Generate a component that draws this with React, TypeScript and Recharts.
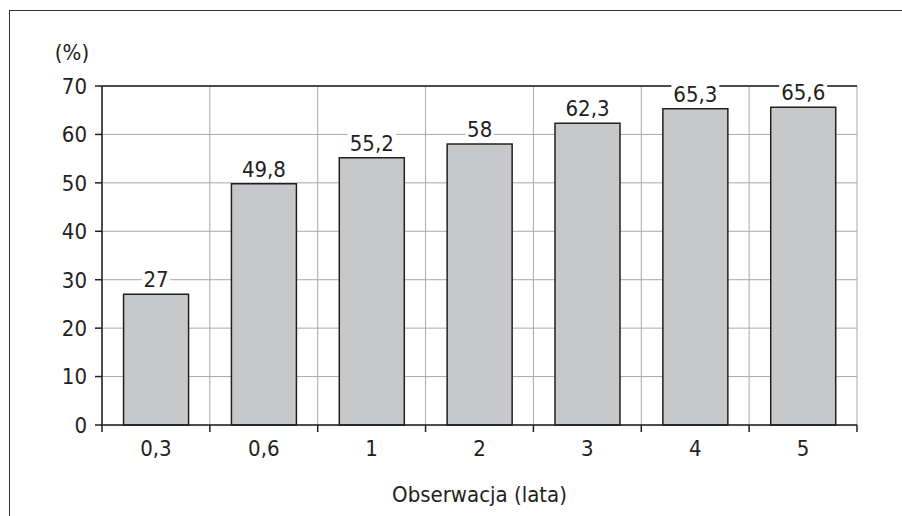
import { BarChart, Bar, XAxis, YAxis, CartesianGrid, LabelList, ReferenceLine, Label } from 'recharts'

// observation time (years) and share (%)
const categories = ['0,3', '0,6', '1', '2', '3', '4', '5']
const values = [27, 49.8, 55.2, 58, 62.3, 65.3, 65.6]
const yTicks = [0, 10, 20, 30, 40, 50, 60, 70]

const data = categories.map((c, i) => ({ name: c, value: values[i] }))

const FONT = '"Liberation Sans Narrow", "DejaVu Sans Condensed", sans-serif'
const TEXT = '#231f20'

const fmt = (v: number) => String(v).replace('.', ',')

function ValueLabel(props: any) {
  const { x, y, width, value } = props
  const s = fmt(value)
  const w = s.length * 10 + 8
  const cx = x + width / 2
  return (
    <g>
      <rect x={cx - w / 2} y={y - 26} width={w} height={22} fill="#fff" />
      <text x={cx} y={y - 7} textAnchor="middle" fontSize={22} fontFamily={FONT} fill={TEXT}>
        {s}
      </text>
    </g>
  )
}

// label at the band centre, tick marks at the band edges
function XTick(props: any) {
  const { x, y, payload, index, visibleTicksCount } = props
  const half = payload.offset || 0
  const top = y - 15
  return (
    <g>
      <line x1={x - half} x2={x - half} y1={top} y2={top + 7} stroke={TEXT} strokeWidth={1.5} />
      {index === visibleTicksCount - 1 && (
        <line x1={x + half} x2={x + half} y1={top} y2={top + 7} stroke={TEXT} strokeWidth={1.5} />
      )}
      <text x={x} y={y} dy="0.71em" textAnchor="middle" fontSize={22} fontFamily={FONT} fill={TEXT}>
        {payload.value}
      </text>
    </g>
  )
}

// vertical grid lines at the category boundaries
const bandEdges = ({ offset }: any) =>
  categories.map((_, i) => offset.left + (i * offset.width) / categories.length).concat(offset.left + offset.width)

export default function App() {
  return (
    <div style={{ position: 'fixed', left: 0, top: 0, width: 902, height: 516, overflow: 'hidden', background: '#fff' }}>
      <div
        style={{
          position: 'absolute',
          left: 9,
          top: 10,
          width: 893,
          height: 506,
          boxSizing: 'border-box',
          borderLeft: '1.5px solid #333',
          borderTop: '1.5px solid #333',
        }}
      />
      <div style={{ position: 'absolute', left: 8, top: 8 }}>
        <BarChart
          width={894}
          height={508}
          data={data}
          margin={{ top: 78, right: 45, left: 0, bottom: 11 }}
          barCategoryGap="20%"
        >
          <CartesianGrid stroke="#a7a9ac" strokeWidth={1} verticalCoordinatesGenerator={bandEdges} />
          <XAxis
            dataKey="name"
            height={80}
            tickLine={false}
            tickSize={0}
            tickMargin={15}
            interval={0}
            axisLine={{ stroke: TEXT, strokeWidth: 1.5 }}
            tick={<XTick />}
          >
            <Label
              value="Obserwacja (lata)"
              position="insideBottom"
              offset={3}
              style={{ fontSize: 22, fontFamily: FONT, fill: TEXT }}
            />
          </XAxis>
          <YAxis
            width={94}
            domain={[0, 70]}
            ticks={yTicks}
            interval={0}
            tickSize={7}
            tickMargin={8}
            axisLine={{ stroke: TEXT, strokeWidth: 1.5 }}
            tickLine={{ stroke: TEXT, strokeWidth: 1.5 }}
            tick={{ fontSize: 22, fontFamily: FONT, fill: TEXT }}
          >
            <Label
              value="(%)"
              position="top"
              offset={26}
              dx={17}
              style={{ fontSize: 22, fontFamily: FONT, fill: TEXT }}
            />
          </YAxis>
          <YAxis
            yAxisId="right"
            orientation="right"
            width={0}
            domain={[0, 70]}
            tick={false}
            tickLine={false}
            axisLine={{ stroke: TEXT, strokeWidth: 1.5 }}
          />
          <ReferenceLine y={70} stroke={TEXT} strokeWidth={1.5} />
          <Bar dataKey="value" fill="#c7c8ca" stroke={TEXT} strokeWidth={1.5} isAnimationActive={false}>
            <LabelList dataKey="value" position="top" content={ValueLabel} />
          </Bar>
        </BarChart>
      </div>
    </div>
  )
}
